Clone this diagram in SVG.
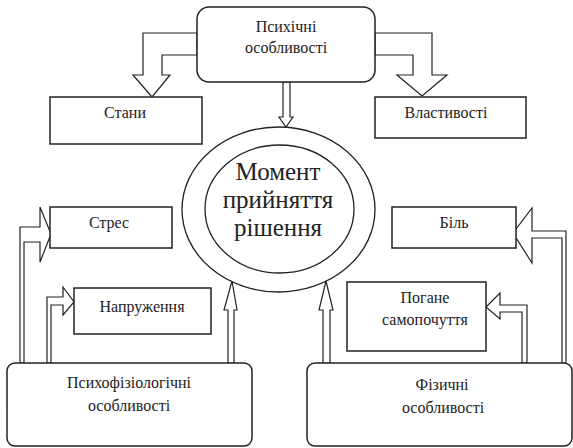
<svg xmlns="http://www.w3.org/2000/svg" width="573" height="448" viewBox="0 0 573 448">
<style>
.box{fill:#fff;stroke:#222;stroke-width:1.5}
.arr{fill:#fff;stroke:#222;stroke-width:1.2;stroke-linejoin:miter}
.ell{fill:none;stroke:#222;stroke-width:1.3}
text{font-family:"Liberation Serif","Times New Roman",serif;fill:#222;text-anchor:middle}
.t{font-size:16px}
.big{font-size:25px}
</style>
<rect width="573" height="448" fill="#fff"/>
<g id="connectors">
<polygon class="arr" points="197,33 143,33 143,75 133,75 152,97 170,75 162,75 162,55 197,55"/>
<polygon class="arr" points="375,33 432,33 432,75 447,75 422,96 397,75 413,75 413,55 375,55"/>
<polygon class="arr" points="283,82 283,117 279,117 286,127 293,117 290,117 290,82"/>
<polygon class="arr" points="20,363 20,227 40,227 40,207 51,234 40,262 40,242 24,242 24,363"/>
<polygon class="arr" points="47,363 47,297 63,297 63,287 74,302 63,315 63,305 51,305 51,363"/>
<polygon class="arr" points="228,363 228,310 224,310 232,281 237,310 234,310 234,363"/>
<polygon class="arr" points="323,363 323,310 319,310 326,281 333,310 330,310 330,363"/>
<polygon class="arr" points="566,363 566,231 532,231 532,208 513,233 532,263 532,238 562,238 562,363"/>
<polygon class="arr" points="527,363 527,305 500,305 500,293 486,307 500,319 500,312 522,312 522,363"/>
</g>
<g id="psychic">
<rect class="box" x="197" y="7" width="178" height="75" rx="12"/>
<text class="t" x="286" y="32">Психічні</text>
<text class="t" x="286" y="53">особливості</text>
</g>
<g id="states">
<rect class="box" x="50" y="97" width="152" height="47"/>
<text class="t" x="125" y="118">Стани</text>
</g>
<g id="properties">
<rect class="box" x="375" y="97" width="151" height="41"/>
<text class="t" x="446" y="118">Властивості</text>
</g>
<g id="moment">
<ellipse class="ell" cx="278.5" cy="209.5" rx="96.5" ry="82.5"/>
<ellipse class="ell" cx="279.5" cy="209" rx="74.5" ry="64"/>
<text class="big" x="278" y="180">Момент</text>
<text class="big" x="278" y="208">прийняття</text>
<text class="big" x="278" y="236">рішення</text>
</g>
<g id="stress">
<rect class="box" x="50" y="207" width="122" height="41"/>
<text class="t" x="109" y="228">Стрес</text>
</g>
<g id="tension">
<rect class="box" x="74" y="288" width="137" height="46"/>
<text class="t" x="142" y="312">Напруження</text>
</g>
<g id="pain">
<rect class="box" x="392" y="207" width="124" height="41"/>
<text class="t" x="454" y="228">Біль</text>
</g>
<g id="malaise">
<rect class="box" x="347" y="282" width="139" height="69"/>
<text class="t" x="425" y="303">Погане</text>
<text class="t" x="425" y="325">самопочуття</text>
</g>
<g id="psychophys">
<rect class="box" x="7" y="363" width="245" height="83" rx="8"/>
<text class="t" x="129" y="388">Психофізіологічні</text>
<text class="t" x="129" y="411">особливості</text>
</g>
<g id="physical">
<rect class="box" x="307" y="363" width="265" height="83" rx="8"/>
<text class="t" x="442" y="390">Фізичні</text>
<text class="t" x="443" y="413">особливості</text>
</g>
</svg>
